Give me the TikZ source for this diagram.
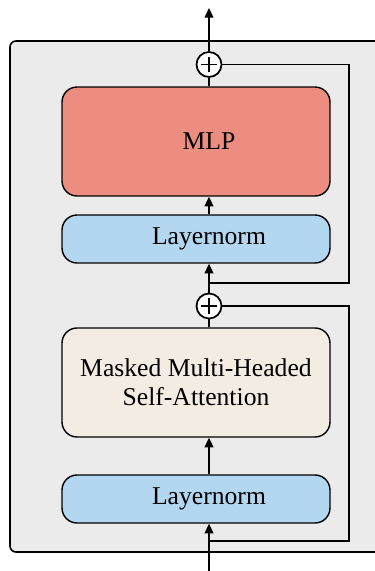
\documentclass[tikz,border=0pt]{standalone}
\usepackage{fontspec}
\setmainfont{Liberation Serif}
\usetikzlibrary{arrows.meta}
\definecolor{blockgray}{HTML}{EBEBEB}
\definecolor{mlpred}{HTML}{EC8D80}
\definecolor{normblue}{HTML}{B3D7F0}
\definecolor{attnbeige}{HTML}{F3ECE2}
\begin{document}
\begin{tikzpicture}[x=0.02cm, y=-0.02cm,
    box/.style={draw, line width=0.8pt, rounded corners=0.3cm, minimum width=5.36cm, inner sep=0pt},
    boxtext/.style={font=\fontsize{14.6}{16.6}\selectfont, align=center},
    plus/.style={draw, circle, line width=1pt, fill=white, minimum size=0.5cm, inner sep=0pt,
        path picture={\draw[line width=1pt] ([xshift=-0.16cm]path picture bounding box.center) -- ([xshift=0.16cm]path picture bounding box.center);
                      \draw[line width=1pt] ([yshift=-0.16cm]path picture bounding box.center) -- ([yshift=0.16cm]path picture bounding box.center);}},
    wire/.style={line width=0.9pt},
    arr/.style={wire, -{Triangle[length=5.5pt, width=5pt]}}]
        \clip (0,0) rectangle (375,571);                                              %
        \draw [fill=blockgray, line width=0.9pt, rounded corners=0.12cm] (10,41) rectangle (400,552); % block frame
        \node [box, fill=mlpred, minimum height=2.18cm]    (mlp)  at (196,141.5) {};  %MLP
        \node [box, fill=normblue, minimum height=0.96cm]  (lnA)  at (196,239)   {};  %Layernorm top
        \node [box, fill=attnbeige, minimum height=2.18cm, boxtext] (attn) at (196,382.5)
              {Masked Multi-Headed\\Self-Attention};                                 %attention
        \node [box, fill=normblue, minimum height=0.96cm]  (lnB)  at (196,499)   {};  %Layernorm bottom
        \node [boxtext] (mlptext) at (209,141.5) {MLP};                             %
        \node [boxtext] (lnAtext) at (209,239)   {Layernorm};                       %
        \node [boxtext] (lnBtext) at (209,499)   {Layernorm};                       %
        \node [plus] (plusA) at (209,64.5) {};                                      %residual add top
        \node [plus] (plusB) at (209,306)  {};                                      %residual add bottom
        \coordinate (in)    at (209,571);                                           %
        \coordinate (out)   at (209,8);                                             %
        \coordinate (skipA) at (349,283);                                           %
        \coordinate (skipB) at (349,541);                                           %
        \draw [arr]  (in) -- (lnB.south -| in);                                     %
        \draw [arr]  (lnB.north -| in) -- (attn.south -| in);                       %
        \draw [wire] (attn.north -| in) -- (plusB.south);                           %
        \draw [arr]  (plusB.north) -- (lnA.south -| in);                            %
        \draw [arr]  (lnA.north -| in) -- (mlp.south -| in);                        %
        \draw [wire] (mlp.north -| in) -- (plusA.south);                            %
        \draw [arr]  (plusA.north) -- (out);                                        %
        \draw [wire] (plusA.east) -| (skipA) -- (skipA -| in);                      %skip around MLP
        \draw [wire] (plusB.east) -| (skipB) -- (skipB -| in);                      %skip around attention
\end{tikzpicture}
\end{document}
